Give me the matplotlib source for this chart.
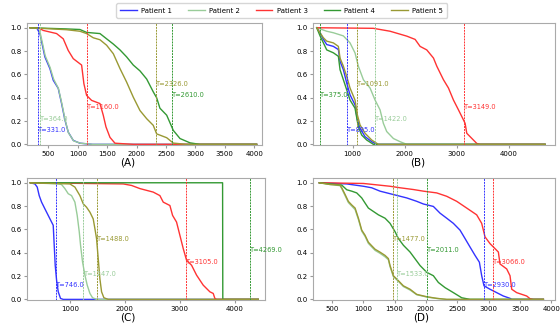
import numpy as np
import matplotlib
matplotlib.use('Agg')
import matplotlib.pyplot as plt

# ---- panel A ----
a_t1 = [190, 301, 357, 442, 527, 584, 669, 726, 782, 839, 924, 1037, 1250, 4040]
a_s1 = [1.0, 1.0, 0.95, 0.75, 0.65, 0.55, 0.48, 0.35, 0.21, 0.105, 0.034, 0.01, 0.0, 0.0]
a_t2 = [190, 320, 365, 447, 530, 590, 672, 730, 786, 842, 930, 1045, 1260, 4040]
a_s2 = [1.0, 1.0, 0.95, 0.76, 0.66, 0.56, 0.48, 0.35, 0.21, 0.10, 0.03, 0.01, 0.0, 0.0]
a_t3 = [190, 330, 413, 641, 754, 839, 924, 1066, 1105, 1151, 1236, 1378, 1434, 1480, 1548, 1633, 1950, 4040]
a_s3 = [1.0, 1.0, 0.977, 0.95, 0.905, 0.805, 0.735, 0.68, 0.52, 0.42, 0.377, 0.35, 0.25, 0.15, 0.06, 0.01, 0.0, 0.0]
a_t4 = [190, 800, 1037, 1151, 1264, 1378, 1491, 1605, 1718, 1831, 1944, 2058, 2172, 2284, 2341, 2397,
        2512, 2624, 2738, 2908, 3078, 4040]
a_s4 = [1.0, 0.99, 0.985, 0.96, 0.955, 0.95, 0.905, 0.86, 0.81, 0.75, 0.68, 0.63, 0.56, 0.45, 0.40, 0.31,
        0.25, 0.12, 0.05, 0.013, 0.0, 0.0]
a_t5 = [190, 811, 1037, 1151, 1264, 1378, 1491, 1605, 1718, 1831, 1944, 2058, 2172, 2284, 2341, 2512,
        2624, 2850, 4040]
a_s5 = [1.0, 0.983, 0.97, 0.95, 0.914, 0.897, 0.85, 0.777, 0.65, 0.534, 0.405, 0.29, 0.22, 0.163, 0.09, 0.057,
        0.011, 0.0, 0.0]
a_T = [331.0, 364.0, 1160.0, 2610.0, 2326.0]

# ---- panel B ----
b_t1 = [311, 375, 439, 503, 631, 727, 759, 823, 887, 951, 1047, 1092, 1143, 1240, 1368, 1464, 4700]
b_s1 = [1.0, 0.957, 0.90, 0.856, 0.84, 0.813, 0.712, 0.64, 0.526, 0.425, 0.339, 0.21, 0.138, 0.066, 0.023, 0.0, 0.0]
b_t2 = [311, 407, 503, 631, 823, 951, 1047, 1111, 1208, 1336, 1432, 1528, 1592, 1656, 1785, 1913, 2042, 4700]
b_s2 = [1.0, 0.985, 0.97, 0.957, 0.93, 0.87, 0.784, 0.67, 0.554, 0.483, 0.38, 0.296, 0.18, 0.11, 0.05, 0.023, 0.0, 0.0]
b_t3 = [311, 1400, 1721, 2042, 2202, 2298, 2426, 2555, 2619, 2747, 2843, 2939, 3035, 3131, 3163, 3195,
        3259, 3323, 3387, 3451, 4700]
b_s3 = [1.0, 0.995, 0.97, 0.928, 0.90, 0.84, 0.81, 0.74, 0.67, 0.554, 0.483, 0.38, 0.296, 0.21, 0.18, 0.095,
        0.066, 0.037, 0.008, 0.0, 0.0]
b_t4 = [311, 375, 439, 503, 631, 727, 759, 823, 887, 951, 1047, 1111, 1175, 1272, 1400, 4700]
b_s4 = [1.0, 0.93, 0.87, 0.81, 0.785, 0.755, 0.64, 0.554, 0.468, 0.38, 0.31, 0.15, 0.08, 0.037, 0.0, 0.0]
b_t5 = [311, 375, 439, 503, 631, 727, 759, 823, 887, 951, 1047, 1092, 1143, 1240, 1368, 1496, 4700]
b_s5 = [1.0, 0.957, 0.914, 0.885, 0.87, 0.84, 0.74, 0.67, 0.583, 0.483, 0.38, 0.253, 0.167, 0.095, 0.037, 0.0, 0.0]
b_T = [895.0, 1422.0, 3149.0, 375.0, 1091.0]

# ---- panel C ----
c_t1 = [280, 364, 406, 442, 485, 545, 606, 667, 697, 715, 733, 758, 788, 830, 879, 4424]
c_s1 = [1.0, 0.99, 0.963, 0.89, 0.834, 0.777, 0.72, 0.663, 0.635, 0.464, 0.293, 0.165, 0.065, 0.008, 0.0, 0.0]
c_t2 = [280, 788, 848, 909, 970, 1030, 1091, 1133, 1170, 1194, 1230, 1273, 1315, 1364, 1412, 1485, 4424]
c_s2 = [1.0, 0.99, 0.985, 0.95, 0.906, 0.89, 0.834, 0.72, 0.58, 0.464, 0.321, 0.208, 0.122, 0.051, 0.014, 0.0, 0.0]
c_t3 = [280, 1970, 2121, 2273, 2394, 2515, 2636, 2697, 2818, 2867, 2939, 3000, 3061, 3121, 3212, 3303,
        3424, 3545, 3606, 3636, 3667, 4424]
c_s3 = [1.0, 0.99, 0.977, 0.95, 0.935, 0.92, 0.89, 0.834, 0.805, 0.72, 0.663, 0.549, 0.435, 0.336, 0.293, 0.208,
        0.122, 0.065, 0.051, 0.008, 0.0, 0.0]
c_t4 = [280, 3776, 3780, 4424]
c_s4 = [1.0, 1.0, 0.0, 0.0]
c_t5 = [280, 1000, 1091, 1182, 1242, 1303, 1364, 1424, 1455, 1485, 1515, 1545, 1576, 1618, 1697, 4424]
c_s5 = [1.0, 0.99, 0.963, 0.89, 0.82, 0.79, 0.748, 0.69, 0.606, 0.52, 0.35, 0.178, 0.065, 0.014, 0.0, 0.0]
c_T = [746.0, 1247.0, 3105.0, 4269.0, 1488.0]

# ---- panel D ----
d_t1 = [300, 738, 1004, 1136, 1269, 1482, 1695, 1854, 1961, 2120, 2227, 2333, 2439, 2545, 2625, 2705,
        2785, 2854, 2891, 2928, 3024, 3130, 3236, 3343, 3370, 3875]
d_s1 = [1.0, 0.99, 0.97, 0.957, 0.928, 0.899, 0.87, 0.841, 0.818, 0.797, 0.739, 0.696, 0.652, 0.594, 0.522, 0.449,
        0.377, 0.319, 0.203, 0.116, 0.087, 0.058, 0.029, 0.009, 0.0, 0.0]
d_t2 = [300, 472, 631, 658, 711, 764, 817, 871, 924, 977, 1030, 1083, 1136, 1190, 1269, 1349, 1402, 1429,
        1482, 1562, 1642, 1748, 1854, 2014, 2173, 2333, 3875]
d_s2 = [1.0, 0.985, 0.975, 0.95, 0.89, 0.83, 0.80, 0.77, 0.685, 0.585, 0.54, 0.48, 0.45, 0.42, 0.395, 0.365,
        0.34, 0.28, 0.195, 0.155, 0.11, 0.08, 0.04, 0.02, 0.008, 0.0, 0.0]
d_t3 = [300, 1004, 1429, 1589, 1801, 1961, 2173, 2333, 2492, 2652, 2811, 2891, 2944, 3024, 3104, 3157,
        3183, 3290, 3343, 3370, 3449, 3609, 3662, 3715, 3875]
d_s3 = [1.0, 0.994, 0.97, 0.957, 0.942, 0.928, 0.913, 0.884, 0.841, 0.783, 0.725, 0.652, 0.536, 0.478, 0.435, 0.406,
        0.304, 0.261, 0.203, 0.087, 0.058, 0.029, 0.006, 0.0, 0.0]
d_t4 = [300, 472, 658, 738, 817, 897, 977, 1030, 1083, 1163, 1243, 1349, 1429, 1509, 1562, 1642, 1748,
        1828, 1908, 2014, 2120, 2200, 2306, 2439, 2572, 2705, 3875]
d_s4 = [1.0, 0.99, 0.98, 0.94, 0.928, 0.913, 0.87, 0.826, 0.783, 0.754, 0.725, 0.696, 0.652, 0.58, 0.522, 0.464, 0.406,
        0.348, 0.29, 0.232, 0.203, 0.145, 0.101, 0.058, 0.014, 0.0, 0.0]
d_t5 = [300, 472, 631, 658, 711, 764, 817, 871, 924, 977, 1030, 1083, 1136, 1190, 1269, 1349, 1402, 1429,
        1482, 1562, 1642, 1748, 1854, 2014, 2173, 2333, 3875]
d_s5 = [1.0, 0.985, 0.98, 0.957, 0.90, 0.84, 0.81, 0.783, 0.696, 0.594, 0.55, 0.49, 0.46, 0.43, 0.405, 0.377,
        0.35, 0.29, 0.203, 0.16, 0.116, 0.087, 0.043, 0.023, 0.009, 0.0, 0.0]
d_T = [2930.0, 1533.0, 3066.0, 2011.0, 1477.0]

patients = ['Patient 1', 'Patient 2', 'Patient 3', 'Patient 4', 'Patient 5']
cores = ['#3333ff', '#99cc99', '#ff3333', '#339933', '#999933']

paineis = [
    ('(A)', [(a_t1, a_s1), (a_t2, a_s2), (a_t3, a_s3), (a_t4, a_s4), (a_t5, a_s5)], a_T,
     [0.048, 0.554, 0.420, 0.375], (136, 4133), [500, 1000, 1500, 2000, 2500, 3000, 3500, 4000], 128, 162),
    ('(B)', [(b_t1, b_s1), (b_t2, b_s2), (b_t3, b_s3), (b_t4, b_s4), (b_t5, b_s5)], b_T,
     [0.559, 0.554, 0.432, 0.375], (240, 4890), [1000, 2000, 3000, 4000], 418, 162),
    ('(C)', [(c_t1, c_s1), (c_t2, c_s2), (c_t3, c_s3), (c_t4, c_s4), (c_t5, c_s5)], c_T,
     [0.048, 0.077, 0.425, 0.375], (218, 4545), [1000, 2000, 3000, 4000], 128, 318),
    ('(D)', [(d_t1, d_s1), (d_t2, d_s2), (d_t3, d_s3), (d_t4, d_s4), (d_t5, d_s5)], d_T,
     [0.559, 0.077, 0.432, 0.375], (200, 4060), [500, 1000, 1500, 2000, 2500, 3000, 3500, 4000], 421, 318),
]

fig = plt.figure(figsize=(5.6, 3.25), dpi=100)

for nome, curvas, limiares, pos, xlim, xticks, xlab, ylab in paineis:
    ax = fig.add_axes(pos)
    # curvas de sobrevivencia
    for i in range(5):
        t, s = curvas[i]
        ax.plot(t, s, color=cores[i], lw=1.0, label=patients[i])
    # linhas de limiar
    for i in range(5):
        T = limiares[i]
        ax.axvline(T, color=cores[i], lw=0.7, linestyle=(0, (2, 1)))
        ax.text(T, 0.12 + 0.1*i, 'T=' + str(T), color=cores[i], fontsize=4.8,
                ha='left', va='center', clip_on=False)
    ax.set_xlim(xlim)
    ax.set_ylim(-0.005, 1.04)
    ax.set_xticks(xticks)
    ax.set_yticks([0.0, 0.2, 0.4, 0.6, 0.8, 1.0])
    ax.tick_params(labelsize=5, length=2, color='#999999', pad=2)
    for sp in ax.spines.values():
        sp.set_color('#aaaaaa')
    fig.text(xlab/560, 1 - ylab/325, nome, ha='center', va='center', fontsize=7.5)

h, l = ax.get_legend_handles_labels()
fig.legend(h, l, loc='upper center', bbox_to_anchor=(0.503, 1.0), ncol=5, fontsize=5,
           frameon=True, handlelength=2.4, handletextpad=0.6, columnspacing=2.3, borderpad=0.6)

plt.savefig('out.png', dpi=100)
